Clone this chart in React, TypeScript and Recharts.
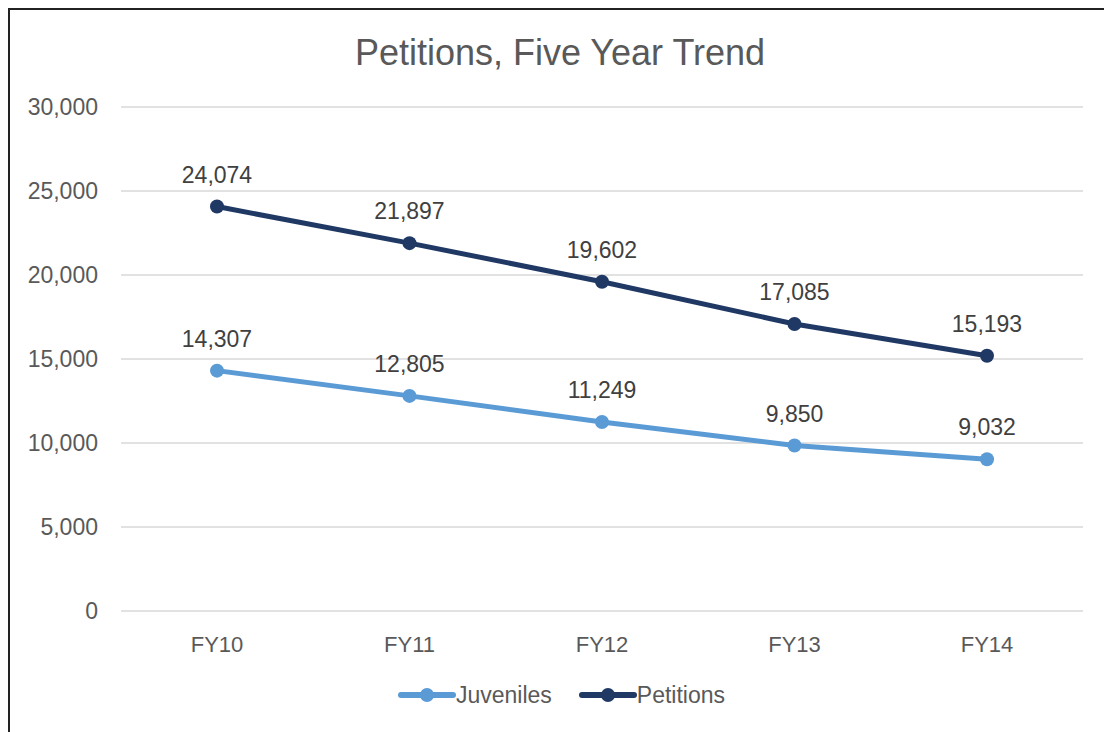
import { LineChart, Line, XAxis, YAxis, CartesianGrid, Legend, LabelList } from 'recharts';

const years = ['FY10', 'FY11', 'FY12', 'FY13', 'FY14'];
const juveniles = [14307, 12805, 11249, 9850, 9032];
const petitions = [24074, 21897, 19602, 17085, 15193];
const yTicks = [0, 5000, 10000, 15000, 20000, 25000, 30000];

const data = years.map((name, i) => ({ name, juveniles: juveniles[i], petitions: petitions[i] }));

const FONT = '"Liberation Sans", Arial, sans-serif';
const TEXT = '#595959';
const LIGHT = '#5B9BD5';
const DARK = '#1F3864';

const fmt = (v: number) => v.toLocaleString('en-US');

function LegendBox() {
  const items = [
    { label: 'Juveniles', color: LIGHT },
    { label: 'Petitions', color: DARK },
  ];
  return (
    <div style={{ height: 48, display: 'flex', justifyContent: 'center', alignItems: 'center', gap: 27, paddingLeft: 30, fontFamily: FONT, fontSize: 23, color: TEXT }}>
      {items.map(it => (
        <div key={it.label} style={{ display: 'flex', alignItems: 'center' }}>
          <svg width={58} height={16}>
            <line x1={3} y1={8} x2={55} y2={8} stroke={it.color} strokeWidth={6} strokeLinecap="round" />
            <circle cx={29} cy={8} r={7} fill={it.color} />
          </svg>
          <span>{it.label}</span>
        </div>
      ))}
    </div>
  );
}

export default function App() {
  return (
    <div style={{ position: 'relative', width: 1100, height: 722, borderTop: '2px solid #222', borderLeft: '2px solid #222', borderRight: '1px solid #888', background: '#fff' }}>
      <div style={{ position: 'absolute', top: 22, left: 0, width: '100%', textAlign: 'center', fontFamily: FONT, fontSize: 36, color: TEXT }}>
        Petitions, Five Year Trend
      </div>
      <LineChart width={1099} height={722} data={data} margin={{ top: 97, right: 26, bottom: 13, left: 0 }}>
        <CartesianGrid vertical={false} stroke="#D9D9D9" strokeWidth={1.5} />
        <XAxis
          dataKey="name"
          axisLine={false}
          tickLine={false}
          height={60}
          tickMargin={19}
          padding={{ left: 96, right: 96 }}
          tick={{ fill: TEXT, fontSize: 22, fontFamily: FONT }}
        />
        <YAxis
          width={111}
          domain={[0, 30000]}
          ticks={yTicks}
          axisLine={false}
          tickLine={false}
          tickMargin={17}
          tickFormatter={fmt}
          tick={{ fill: TEXT, fontSize: 23, fontFamily: FONT }}
        />
        <Legend verticalAlign="bottom" content={() => <LegendBox />} />
        <Line dataKey="juveniles" name="Juveniles" stroke={LIGHT} strokeWidth={5} dot={{ r: 7, fill: LIGHT, stroke: LIGHT, strokeWidth: 0 }} isAnimationActive={false}>
          <LabelList dataKey="juveniles" position="top" offset={24} formatter={(v: any) => fmt(Number(v))} style={{ fill: '#404040', fontSize: 23, fontFamily: FONT }} />
        </Line>
        <Line dataKey="petitions" name="Petitions" stroke={DARK} strokeWidth={5} dot={{ r: 7, fill: DARK, stroke: DARK, strokeWidth: 0 }} isAnimationActive={false}>
          <LabelList dataKey="petitions" position="top" offset={24} formatter={(v: any) => fmt(Number(v))} style={{ fill: '#404040', fontSize: 23, fontFamily: FONT }} />
        </Line>
      </LineChart>
    </div>
  );
}
